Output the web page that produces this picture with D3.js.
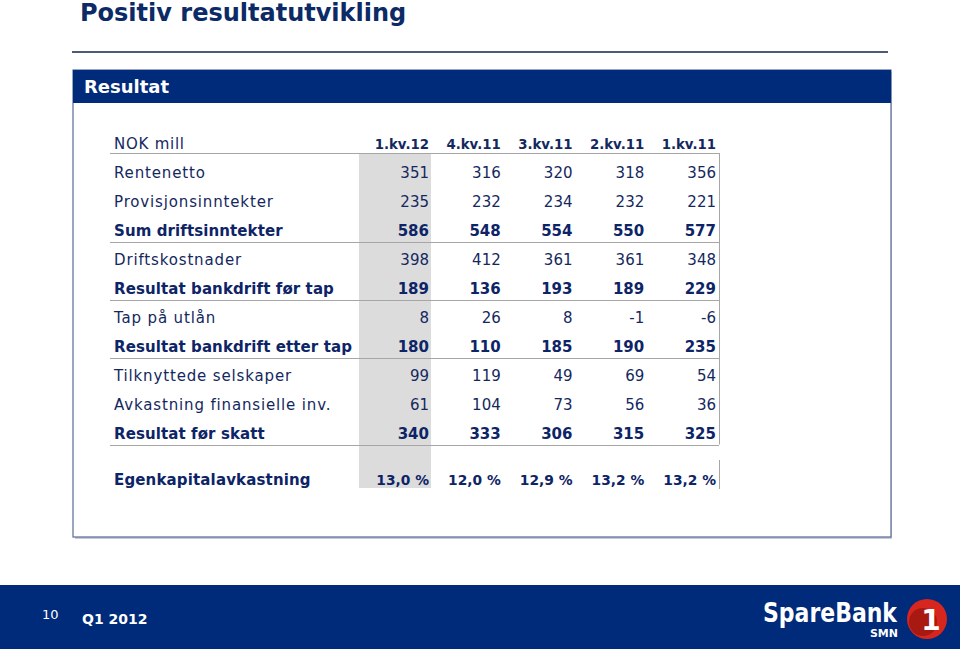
<!DOCTYPE html>
<html><head><meta charset="utf-8">
<script src="https://cdn.jsdelivr.net/npm/d3@7"></script>
<style>html,body{margin:0;padding:0;background:#fff;}svg{display:block;font-family:"DejaVu Sans",Verdana,sans-serif;}</style>
</head><body>
<script>
const periods = ["1.kv.12","4.kv.11","3.kv.11","2.kv.11","1.kv.11"];
const rowLabels = ["Rentenetto","Provisjonsinntekter","Sum driftsinntekter","Driftskostnader","Resultat bankdrift før tap","Tap på utlån","Resultat bankdrift etter tap","Tilknyttede selskaper","Avkastning finansielle inv.","Resultat før skatt"];
const rentenetto = [351,316,320,318,356];
const provisjonsinntekter = [235,232,234,232,221];
const sumDriftsinntekter = [586,548,554,550,577];
const driftskostnader = [398,412,361,361,348];
const resultatForTap = [189,136,193,189,229];
const tapPaUtlan = [8,26,8,-1,-6];
const resultatEtterTap = [180,110,185,190,235];
const tilknyttede = [99,119,49,69,54];
const avkastningFin = [61,104,73,56,36];
const resultatForSkatt = [340,333,306,315,325];
const egenkapitalavkastning = [13.0,12.0,12.9,13.2,13.2];
const boldRows = ["Sum driftsinntekter","Resultat bankdrift før tap","Resultat bankdrift etter tap","Resultat før skatt"];
const lineAfter = ["Sum driftsinntekter","Resultat bankdrift før tap","Resultat bankdrift etter tap","Resultat før skatt"];

const rowValues = [rentenetto,provisjonsinntekter,sumDriftsinntekter,driftskostnader,resultatForTap,tapPaUtlan,resultatEtterTap,tilknyttede,avkastningFin,resultatForSkatt];
const rows = rowLabels.map((l,i)=>({label:l, values:rowValues[i], bold:boldRows.includes(l)}));

const W=960,H=649;
const navy="#002a7a", textNavy="#14285e";
const svg=d3.select("body").append("svg").attr("width",W).attr("height",H);

// title
svg.append("text").attr("x",80).attr("y",21).attr("font-size",24).attr("font-weight","bold").attr("fill","#0b2a66").text("Positiv resultatutvikling");
svg.append("line").attr("x1",72).attr("x2",888).attr("y1",52).attr("y2",52).attr("stroke","#4d5a7c").attr("stroke-width",2);

// box
svg.append("rect").attr("x",75).attr("y",72).attr("width",817).attr("height",467).attr("fill","#c9ccd6");
svg.append("rect").attr("x",73).attr("y",70).attr("width",818).attr("height",467).attr("fill","#fff").attr("stroke","#5a6a94").attr("stroke-width",1.2);
svg.append("rect").attr("x",73).attr("y",70).attr("width",818).attr("height",33).attr("fill",navy);
svg.append("text").attr("x",84).attr("y",93).attr("font-size",18).attr("font-weight","bold").attr("fill","#fff").text("Resultat");

// scales
const x = d3.scalePoint().domain(periods).range([429,716]);
const y = d3.scaleBand().domain(rowLabels).range([158.5,448.5]);

// shaded first column
svg.append("rect").attr("x",x(periods[0])-70).attr("y",153).attr("width",72).attr("height",335).attr("fill","#dcdcdc");

// header
svg.append("text").attr("x",114).attr("y",149).attr("font-size",15).attr("letter-spacing",0.75).attr("fill",textNavy).text("NOK mill");
svg.selectAll(".ph").data(periods).join("text").attr("x",d=>x(d)).attr("y",149).attr("text-anchor","end")
  .attr("font-size",13.3).attr("font-weight","bold").attr("fill",textNavy).text(d=>d);

// grid lines
const lineColor="#a6a6a6";
svg.append("line").attr("x1",110).attr("x2",719).attr("y1",153.5).attr("y2",153.5).attr("stroke",lineColor);
lineAfter.forEach(l=>{
  const yy=Math.round(y(l)+y.bandwidth())+0.5-4;
  svg.append("line").attr("x1",110).attr("x2",719).attr("y1",yy).attr("y2",yy).attr("stroke",lineColor);
});
svg.append("line").attr("x1",719.5).attr("x2",719.5).attr("y1",153).attr("y2",y(rowLabels[9])+y.bandwidth()-4).attr("stroke",lineColor);
svg.append("line").attr("x1",719.5).attr("x2",719.5).attr("y1",460).attr("y2",489).attr("stroke",lineColor);

// rows
const g=svg.selectAll(".row").data(rows).join("g").attr("transform",d=>`translate(0,${y(d.label)+y.bandwidth()/2})`);
g.append("text").attr("x",114).attr("dy","0.35em").attr("font-size",15).attr("font-weight",d=>d.bold?"bold":"normal")
  .attr("letter-spacing",d=>d.bold?0.1:0.85)
  .attr("fill",d=>d.bold?"#0d2466":textNavy).text(d=>d.label);
g.selectAll(".v").data(d=>d.values.map((v,i)=>({v,p:periods[i],bold:d.bold}))).join("text")
  .attr("x",d=>x(d.p)).attr("dy","0.35em").attr("text-anchor","end").attr("font-size",15)
  .attr("font-weight",d=>d.bold?"bold":"normal").attr("fill",d=>d.bold?"#0d2466":textNavy).text(d=>d.v);

// egenkapital
svg.append("text").attr("x",114).attr("y",480).attr("dy","0.35em").attr("font-size",15).attr("font-weight","bold").attr("letter-spacing",0.15).attr("fill","#0d2466").text("Egenkapitalavkastning");
const fmt=v=>v.toFixed(1).replace(".",",")+" %";
svg.selectAll(".ek").data(egenkapitalavkastning).join("text").attr("x",(d,i)=>x(periods[i])).attr("y",480).attr("dy","0.35em")
  .attr("text-anchor","end").attr("font-size",13.8).attr("font-weight","bold").attr("fill","#0d2466").text(fmt);

// footer
svg.append("rect").attr("x",0).attr("y",585).attr("width",W).attr("height",64).attr("fill",navy);
svg.append("text").attr("x",42).attr("y",619).attr("font-size",13).attr("fill","#fff").text("10");
svg.append("text").attr("x",82).attr("y",624).attr("font-size",14).attr("font-weight","bold").attr("fill","#fff").text("Q1 2012");
svg.append("text").attr("x",763).attr("y",622).attr("font-size",26).attr("font-weight","bold").attr("fill","#fff")
  .attr("textLength",134).attr("lengthAdjust","spacingAndGlyphs").text("SpareBank");
svg.append("text").attr("x",898).attr("y",637).attr("text-anchor","end").attr("font-size",11).attr("font-weight","bold").attr("fill","#fff").text("SMN");
svg.append("circle").attr("cx",927).attr("cy",619).attr("r",20).attr("fill","#d7261e");
svg.append("circle").attr("cx",923).attr("cy",622).attr("r",14).attr("fill","#a81912");
svg.append("text").attr("x",931).attr("y",630).attr("text-anchor","middle").attr("font-size",28).attr("font-weight","bold").attr("fill","#fff").text("1");
</script>
</body></html>
